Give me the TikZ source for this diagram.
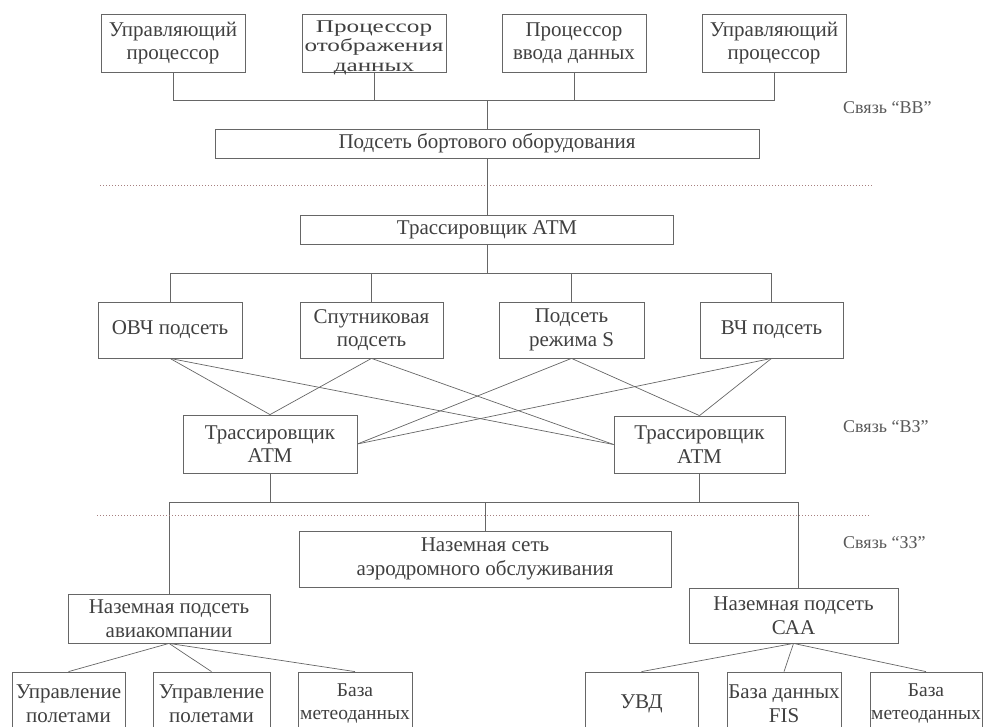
\documentclass[tikz,border=0pt]{standalone}
\usepackage{fontspec}
\setmainfont{Liberation Serif}
\newfontfamily\widefont[FakeStretch=1.4]{Liberation Serif}
\begin{document}
\begin{tikzpicture}[x=1pt,y=-1pt,
  every node/.style={text=black!75},
  box/.style={draw=black!60, line width=0.8pt, rectangle, inner sep=0pt, align=center,
    font=\fontsize{21}{23.5}\selectfont},
  link/.style={draw=black!60, line width=0.7pt},
  sep/.style={draw=red!30!black!50, line width=0.9pt, dash pattern=on 1.2pt off 1.8pt},
  lbl/.style={anchor=west, inner sep=0pt, font=\fontsize{18}{19}\selectfont, text=black!65},
  smallbox/.style={box, font=\fontsize{19.5}{23.5}\selectfont}]
\useasboundingbox (0,0) rectangle (984,726);
\clip (0,0) rectangle (984,726);
% top row
\node[box, minimum width=144, minimum height=58] (t1) at (173,43) {Управляющий\\процессор};
\node[box, minimum width=144, minimum height=58, text height=56pt, text depth=0pt, font={\widefont\fontsize{18}{19.5}\selectfont}] (t2) at (374,43) {Процессор\\отображения\\данных};
\node[box, minimum width=144, minimum height=58] (t3) at (574,43) {Процессор\\ввода данных};
\node[box, minimum width=144, minimum height=58] (t4) at (774,43) {Управляющий\\процессор};
\node[box, minimum width=544, minimum height=29] (sub) at (487,143.5) {Подсеть бортового оборудования};
\draw[link] (t1.south) -- (t1.south |- 0,100) -- (t4.south |- 0,100) -- (t4.south);
\draw[link] (t2.south) -- (t2.south |- 0,100);
\draw[link] (t3.south) -- (t3.south |- 0,100);
\draw[link] (sub.north |- 0,100) -- (sub.north);
\node[lbl] (l1) at (843,108) {Связь “ВВ”};
\coordinate (d1a) at (100,185);
\coordinate (d1b) at (873,185);
\draw[sep] (d1a) -- (d1b);
% tracer
\node[box, minimum width=373, minimum height=29] (tr) at (487,229.5) {Трассировщик АТМ};
\draw[link] (sub.south) -- (tr.north);
% subnets
\node[box, minimum width=144, minimum height=56] (s1) at (170,330) {ОВЧ подсеть};
\node[box, minimum width=143, minimum height=56] (s2) at (371.5,330) {Спутниковая\\подсеть};
\node[box, minimum width=145, minimum height=56] (s3) at (571.5,330) {Подсеть\\режима S};
\node[box, minimum width=143, minimum height=56] (s4) at (771.5,330) {ВЧ подсеть};
\draw[link] (tr.south) -- (tr.south |- 0,273);
\draw[link] (s1.north) -- (s1.north |- 0,273) -- (s4.north |- 0,273) -- (s4.north);
\draw[link] (s2.north) -- (s2.north |- 0,273);
\draw[link] (s3.north) -- (s3.north |- 0,273);
% ATM tracers
\node[box, minimum width=174, minimum height=58] (a1) at (270,444) {Трассировщик\\АТМ};
\node[box, minimum width=171, minimum height=57] (a2) at (699.5,444.5) {Трассировщик\\АТМ};
\draw[link] (s1.south) -- (a1.north);
\draw[link] (s1.south) -- (a2.west);
\draw[link] (s2.south) -- (a1.north);
\draw[link] (s2.south) -- (a2.west);
\draw[link] (s3.south) -- (a1.east);
\draw[link] (s3.south) -- (a2.north);
\draw[link] (s4.south) -- (a1.east);
\draw[link] (s4.south) -- (a2.north);
\node[lbl] (l2) at (843,427) {Связь “ВЗ”};
% ground
\node[box, minimum width=372, minimum height=56] (aer) at (485,559) {Наземная сеть\\аэродромного обслуживания};
\node[box, minimum width=202, minimum height=49] (air) at (169,618.5) {Наземная подсеть\\авиакомпании};
\node[box, minimum width=209, minimum height=55] (caa) at (793.5,615.5) {Наземная подсеть\\САА};
\draw[link] (a1.south) -- (a1.south |- 0,502);
\draw[link] (a2.south) -- (a2.south |- 0,502);
\draw[link] (air.north) -- (air.north |- 0,502) -- (798,502) -- (caa.north -| 798,0);
\draw[link] (aer.north) -- (aer.north |- 0,502);
\coordinate (d2a) at (97,515);
\coordinate (d2b) at (870,515);
\draw[sep] (d2a) -- (d2b);
\node[lbl] (l3) at (843,543) {Связь “ЗЗ”};
% bottom row
\node[box, minimum width=113, minimum height=63] (b1) at (68.5,703.5) {Управление\\полетами};
\node[box, minimum width=117, minimum height=63] (b2) at (211.5,703.5) {Управление\\полетами};
\node[smallbox, minimum width=114, minimum height=63] (b3) at (355,703.5) {База\\метеоданных};
\node[box, minimum width=113, minimum height=63] (b4) at (641.5,703.5) {УВД};
\node[box, minimum width=114, minimum height=63] (b5) at (784,703.5) {База данных\\FIS};
\node[smallbox, minimum width=112, minimum height=63] (b6) at (926,703.5) {База\\метеоданных};
\draw[link] (air.south) -- (b1.north);
\draw[link] (air.south) -- (b2.north);
\draw[link] (air.south) -- (b3.north);
\draw[link] (caa.south) -- (b4.north);
\draw[link] (caa.south) -- (b5.north);
\draw[link] (caa.south) -- (b6.north);
\end{tikzpicture}
\end{document}
